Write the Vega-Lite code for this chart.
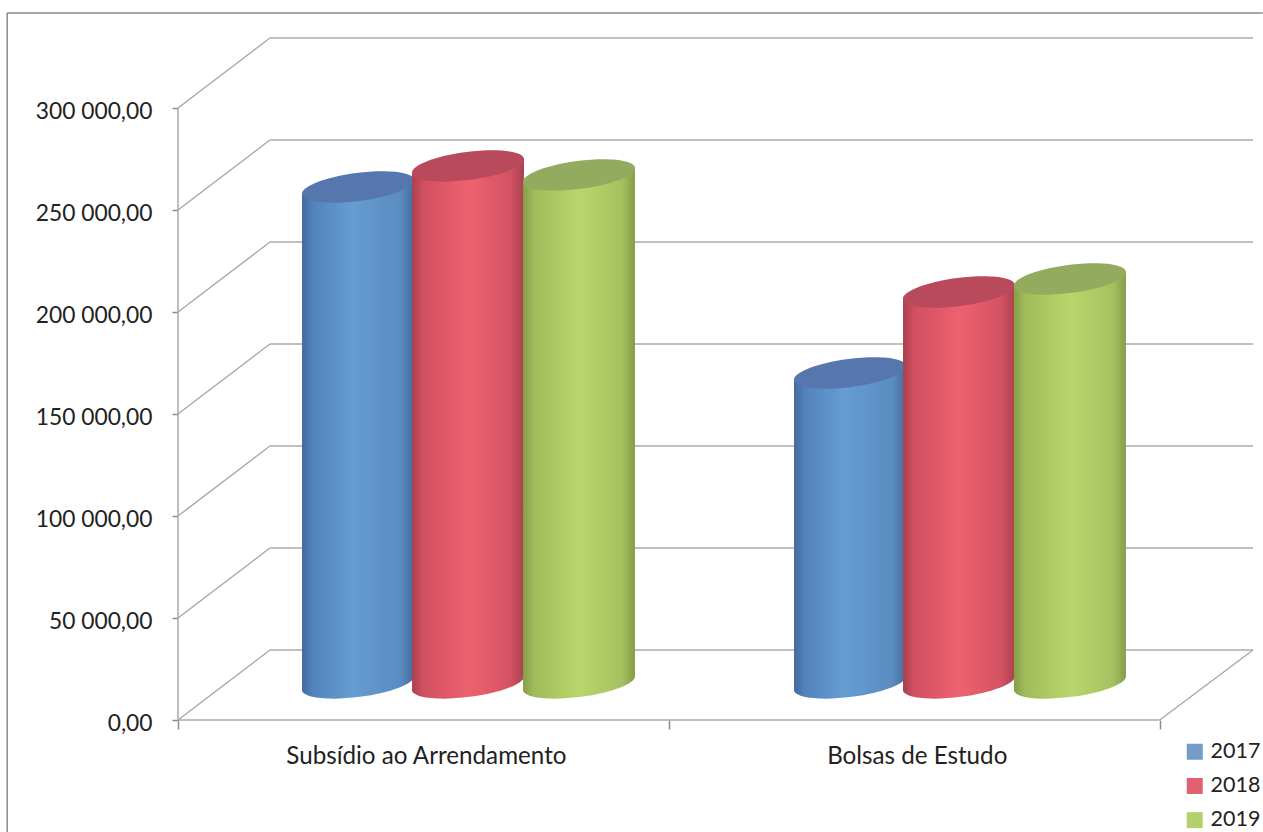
{
"$schema":"https://vega.github.io/schema/vega-lite/v6.json",
"width":1075,"height":682,"autosize":"none",
"padding":{"left":178,"top":38,"right":10,"bottom":112},
"background":"#ffffff",
"config":{"view":{"stroke":null},"font":"Lato"},
"datasets":{
"moldura":[{"x":-0.348,"x2":2.21,"y":346569,"y2":346569},{"x":-0.348,"x2":-0.348,"y":346569,"y2":-54902}],
"linhas":[
{"x":0,"x2":2,"y":0,"y2":0},{"x":0,"x2":0,"y":0,"y2":300000},{"x":2,"x2":2.19,"y":0,"y2":34314},
{"x":0,"x2":0.1874,"y":0,"y2":34314},{"x":0,"x2":0.1874,"y":50000,"y2":84314},{"x":0,"x2":0.1874,"y":100000,"y2":134314},{"x":0,"x2":0.1874,"y":150000,"y2":184314},{"x":0,"x2":0.1874,"y":200000,"y2":234314},{"x":0,"x2":0.1874,"y":250000,"y2":284314},{"x":0,"x2":0.1874,"y":300000,"y2":334314},
{"x":0.1874,"x2":2.19,"y":34314,"y2":34314},{"x":0.1874,"x2":2.19,"y":84314,"y2":84314},{"x":0.1874,"x2":2.19,"y":134314,"y2":134314},{"x":0.1874,"x2":2.19,"y":184314,"y2":184314},{"x":0.1874,"x2":2.19,"y":234314,"y2":234314},{"x":0.1874,"x2":2.19,"y":284314,"y2":284314},{"x":0.1874,"x2":2.19,"y":334314,"y2":334314}
],
"topos":[
{"categoria":"Subsídio ao Arrendamento","ano":2017,"x":0.3667,"y":261275},
{"categoria":"Subsídio ao Arrendamento","ano":2018,"x":0.5908,"y":271588},
{"categoria":"Subsídio ao Arrendamento","ano":2019,"x":0.8169,"y":267186},
{"categoria":"Bolsas de Estudo","ano":2017,"x":1.369,"y":170098},
{"categoria":"Bolsas de Estudo","ano":2018,"x":1.591,"y":209804},
{"categoria":"Bolsas de Estudo","ano":2019,"x":1.817,"y":216196}
],
"bases":[
{"categoria":"Subsídio ao Arrendamento","ano":2017,"x":0.3667,"y":18157},
{"categoria":"Subsídio ao Arrendamento","ano":2018,"x":0.5908,"y":18157},
{"categoria":"Subsídio ao Arrendamento","ano":2019,"x":0.8169,"y":18157},
{"categoria":"Bolsas de Estudo","ano":2017,"x":1.369,"y":18157},
{"categoria":"Bolsas de Estudo","ano":2018,"x":1.591,"y":18157},
{"categoria":"Bolsas de Estudo","ano":2019,"x":1.817,"y":18157}
],
"corpos":[
{"categoria":"Subsídio ao Arrendamento","ano":2017,"x":0.2527,"y":257675,"y2":14557},
{"categoria":"Subsídio ao Arrendamento","ano":2017,"x":0.4807,"y":264875,"y2":21757},
{"categoria":"Subsídio ao Arrendamento","ano":2018,"x":0.4768,"y":267988,"y2":14557},
{"categoria":"Subsídio ao Arrendamento","ano":2018,"x":0.7048,"y":275188,"y2":21757},
{"categoria":"Subsídio ao Arrendamento","ano":2019,"x":0.7029,"y":263586,"y2":14557},
{"categoria":"Subsídio ao Arrendamento","ano":2019,"x":0.9309,"y":270786,"y2":21757},
{"categoria":"Bolsas de Estudo","ano":2017,"x":1.255,"y":166498,"y2":14557},
{"categoria":"Bolsas de Estudo","ano":2017,"x":1.483,"y":173698,"y2":21757},
{"categoria":"Bolsas de Estudo","ano":2018,"x":1.477,"y":206204,"y2":14557},
{"categoria":"Bolsas de Estudo","ano":2018,"x":1.705,"y":213404,"y2":21757},
{"categoria":"Bolsas de Estudo","ano":2019,"x":1.703,"y":212596,"y2":14557},
{"categoria":"Bolsas de Estudo","ano":2019,"x":1.931,"y":219796,"y2":21757}
]
},
"encoding":{
"x":{"field":"x","type":"quantitative","scale":{"domain":[0,2.19],"nice":false,"zero":false},
"axis":{"title":null,"grid":false,"domain":false,"orient":"bottom","values":[0,0.505,1,1.505,2],"tickSize":9,"tickColor":"#8c8c8c","tickWidth":1.5,"tickOpacity":{"condition":{"test":"datum.value%1==0","value":1},"value":0},"labelExpr":"datum.value==0.505?'Subsídio ao Arrendamento':datum.value==1.505?'Bolsas de Estudo':''","labelFontSize":24.2,"labelLimit":500,"labelColor":"#222222","labelPadding":15,"labelFlush":false,"labelOverlap":false}},
"y":{"field":"y","type":"quantitative","stack":null,"scale":{"domain":[0,334314],"nice":false,"zero":false},
"axis":{"title":null,"grid":false,"domain":false,"values":[0,50000,100000,150000,200000,250000,300000],"tickSize":6,"tickColor":"#8c8c8c","tickWidth":1.5,"labelExpr":"replace(replace(format(datum.value,',.2f'),',',' '),'.',',')","labelFontSize":22.8,"labelColor":"#222222","labelPadding":20,"labelOffset":3}}
},
"layer":[
{"data":{"name":"moldura"},"mark":{"type":"rule","color":"#8a8a8a","strokeWidth":1.5},"encoding":{"x2":{"field":"x2"},"y2":{"field":"y2"}}},
{"data":{"name":"linhas"},"mark":{"type":"rule","color":"#aeaaa4","strokeWidth":1.5},"encoding":{"x2":{"field":"x2"},"y2":{"field":"y2"}}},
{"data":{"name":"corpos"},"mark":{"type":"area"},"encoding":{"y2":{"field":"y2"},"detail":{"field":"categoria"},"color":{"field":"ano","type":"nominal","scale":{"domain":[2017,2018,2019],"range":["#739cc9","#e0616f","#b4d06c"]},"legend":{"title":null,"orient":"none","legendX":1006,"legendY":703,"symbolType":"square","symbolSize":256,"symbolStrokeWidth":0,"labelFontSize":21.5,"labelColor":"#222222","rowPadding":11.2,"labelOffset":5}}}},
{"data":{"name":"bases"},"transform":[{"filter":"datum.ano==2017"}],"mark":{"type":"point","filled":true,"opacity":1,"size":12544,"shape":"M-1,0.13A1.008,0.25,-7.4,1,1,1,-0.13A1.008,0.25,-7.4,1,1,-1,0.13Z","color":{"gradient":"linear","x1":0,"y1":0,"x2":1,"y2":0,"stops":[{"offset":0,"color":"#46699f"},{"offset":0.1,"color":"#5283bb"},{"offset":0.45,"color":"#659dd1"},{"offset":0.88,"color":"#5a8cc0"},{"offset":1,"color":"#466a9f"}]}}},
{"data":{"name":"corpos"},"transform":[{"filter":"datum.ano==2017"}],"mark":{"type":"area","color":{"gradient":"linear","x1":0,"y1":0,"x2":1,"y2":0,"stops":[{"offset":0,"color":"#46699f"},{"offset":0.1,"color":"#5283bb"},{"offset":0.45,"color":"#659dd1"},{"offset":0.88,"color":"#5a8cc0"},{"offset":1,"color":"#466a9f"}]}},"encoding":{"y2":{"field":"y2"},"detail":{"field":"categoria"}}},
{"data":{"name":"topos"},"transform":[{"filter":"datum.ano==2017"}],"mark":{"type":"point","filled":true,"opacity":1,"size":12544,"shape":"M-1,0.13A1.008,0.25,-7.4,1,1,1,-0.13A1.008,0.25,-7.4,1,1,-1,0.13Z","color":"#5577ae"}},
{"data":{"name":"bases"},"transform":[{"filter":"datum.ano==2018"}],"mark":{"type":"point","filled":true,"opacity":1,"size":12544,"shape":"M-1,0.13A1.008,0.25,-7.4,1,1,1,-0.13A1.008,0.25,-7.4,1,1,-1,0.13Z","color":{"gradient":"linear","x1":0,"y1":0,"x2":1,"y2":0,"stops":[{"offset":0,"color":"#a84250"},{"offset":0.1,"color":"#d04f60"},{"offset":0.5,"color":"#ee626f"},{"offset":0.88,"color":"#d45263"},{"offset":1,"color":"#a84250"}]}}},
{"data":{"name":"corpos"},"transform":[{"filter":"datum.ano==2018"}],"mark":{"type":"area","color":{"gradient":"linear","x1":0,"y1":0,"x2":1,"y2":0,"stops":[{"offset":0,"color":"#a84250"},{"offset":0.1,"color":"#d04f60"},{"offset":0.5,"color":"#ee626f"},{"offset":0.88,"color":"#d45263"},{"offset":1,"color":"#a84250"}]}},"encoding":{"y2":{"field":"y2"},"detail":{"field":"categoria"}}},
{"data":{"name":"topos"},"transform":[{"filter":"datum.ano==2018"}],"mark":{"type":"point","filled":true,"opacity":1,"size":12544,"shape":"M-1,0.13A1.008,0.25,-7.4,1,1,1,-0.13A1.008,0.25,-7.4,1,1,-1,0.13Z","color":"#b94a5b"}},
{"data":{"name":"bases"},"transform":[{"filter":"datum.ano==2019"}],"mark":{"type":"point","filled":true,"opacity":1,"size":12544,"shape":"M-1,0.13A1.008,0.25,-7.4,1,1,1,-0.13A1.008,0.25,-7.4,1,1,-1,0.13Z","color":{"gradient":"linear","x1":0,"y1":0,"x2":1,"y2":0,"stops":[{"offset":0,"color":"#869e48"},{"offset":0.1,"color":"#a0bc5a"},{"offset":0.5,"color":"#b8d66c"},{"offset":0.88,"color":"#a6c260"},{"offset":1,"color":"#869e48"}]}}},
{"data":{"name":"corpos"},"transform":[{"filter":"datum.ano==2019"}],"mark":{"type":"area","color":{"gradient":"linear","x1":0,"y1":0,"x2":1,"y2":0,"stops":[{"offset":0,"color":"#869e48"},{"offset":0.1,"color":"#a0bc5a"},{"offset":0.5,"color":"#b8d66c"},{"offset":0.88,"color":"#a6c260"},{"offset":1,"color":"#869e48"}]}},"encoding":{"y2":{"field":"y2"},"detail":{"field":"categoria"}}},
{"data":{"name":"topos"},"transform":[{"filter":"datum.ano==2019"}],"mark":{"type":"point","filled":true,"opacity":1,"size":12544,"shape":"M-1,0.13A1.008,0.25,-7.4,1,1,1,-0.13A1.008,0.25,-7.4,1,1,-1,0.13Z","color":"#92ab5e"}}
]
}
